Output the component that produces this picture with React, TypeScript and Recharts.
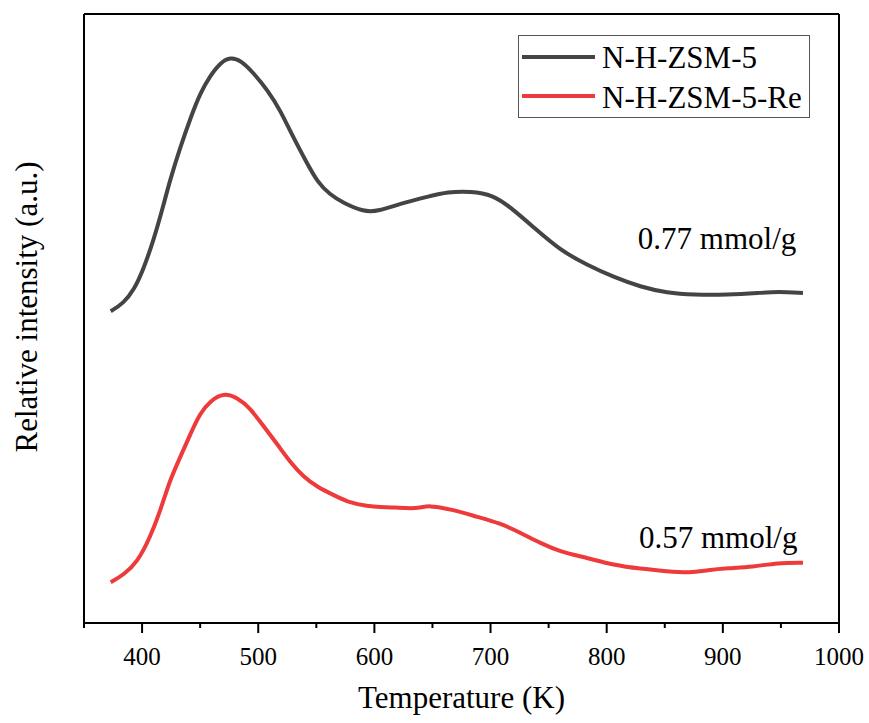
import React from "react";
import {
  LineChart,
  Line,
  XAxis,
  YAxis,
  ReferenceLine,
  ReferenceDot,
  Legend,
} from "recharts";

const serif = '"Liberation Serif", "Times New Roman", serif';

// temperature (K) readings for each sample
const blackTemps = [
  373, 384, 393, 401, 410, 418, 424, 433, 442, 450, 459, 468, 476, 485, 496, 508, 519, 530, 542, 551,
  562, 573, 591, 603, 625, 646, 663, 683, 702, 717, 737, 760, 783, 806, 829, 852, 875, 904, 932, 947, 969,
];
const blackIntensity = [
  51.2, 52.5, 54.7, 58.0, 62.9, 68.3, 72.7, 78.2, 83.1, 87.0, 90.0, 92.1, 92.9, 92.4, 90.3, 87.5, 84.2,
  79.8, 75.5, 72.4, 70.3, 69.0, 67.5, 67.6, 69.0, 70.0, 70.8, 70.9, 70.3, 68.3, 65.0, 61.2, 58.8, 56.8,
  55.2, 54.2, 53.9, 53.9, 54.2, 54.4, 54.2,
];

const redTemps = [
  373, 384, 396, 407, 416, 424, 433, 442, 450, 459, 470, 482, 493, 505, 517, 528, 539, 551, 565, 579,
  594, 605, 616, 637, 646, 668, 689, 708, 726, 743, 760, 783, 806, 829, 852, 872, 887, 904, 926, 947, 969,
];
const redIntensity = [
  6.7, 7.9, 10.0, 14.1, 18.6, 23.5, 27.3, 31.2, 34.5, 36.5, 37.8, 37.0, 35.3, 32.2, 29.2, 26.3, 24.0,
  22.3, 21.0, 19.7, 19.2, 19.0, 19.0, 18.7, 19.4, 18.6, 17.4, 16.4, 14.8, 13.1, 11.7, 10.7, 9.5, 8.9,
  8.5, 8.2, 8.7, 9.0, 9.2, 9.9, 9.9,
];

const xTicks = [350, 400, 450, 500, 550, 600, 650, 700, 750, 800, 850, 900, 950, 1000];

const blackData = blackTemps.map((t, i) => ({ t, v: blackIntensity[i] }));
const redData = redTemps.map((t, i) => ({ t, v: redIntensity[i] }));

const BLACK = "#444444";
const RED = "#ee3a3a";

function TempTick(props: any) {
  const { x, y, payload } = props;
  const major = payload.value % 100 === 0;
  return (
    <g>
      <line x1={x} x2={x} y1={y} y2={y + (major ? 10 : 5)} stroke="#000" strokeWidth={2} />
      {major && (
        <text x={x} y={y + 42} textAnchor="middle" fontFamily={serif} fontSize={25} fill="#000">
          {payload.value}
        </text>
      )}
    </g>
  );
}

function BoxLegend(props: any) {
  const items = props.payload || [];
  return (
    <div style={{ border: "1px solid #555", background: "#fff", width: 290, height: 81 }}>
      <svg width={290} height={81}>
        {items.map((it: any, i: number) => (
          <g key={it.value}>
            <line x1={3} x2={76} y1={21 + i * 39} y2={21 + i * 39} stroke={it.color} strokeWidth={4} />
            <text x={83} y={32 + i * 40} fontFamily={serif} fontSize={31} fill="#000">
              {it.value}
            </text>
          </g>
        ))}
      </svg>
    </div>
  );
}

function valueLabel(text: string) {
  return {
    value: text,
    position: "center" as const,
    fontFamily: serif,
    fontSize: 31,
    fill: "#000",
  };
}

export default function App() {
  return (
    <div style={{ position: "absolute", left: 0, top: 0, width: 869, height: 723, background: "#fff" }}>
      <LineChart width={869} height={723} margin={{ top: 14, right: 30, bottom: 0, left: 0 }}>
        <XAxis
          dataKey="t"
          type="number"
          domain={[350, 1000]}
          ticks={xTicks}
          interval={0}
          allowDataOverflow
          height={100}
          tickLine={false}
          tickSize={0}
          tickMargin={0}
          tick={<TempTick />}
          axisLine={{ stroke: "#000", strokeWidth: 2 }}
          label={{
            value: "Temperature (K)",
            position: "insideBottom",
            offset: 15,
            fontFamily: serif,
            fontSize: 31,
            fill: "#000",
          }}
        />
        <YAxis
          type="number"
          domain={[0, 100]}
          width={84}
          tick={false}
          tickLine={false}
          axisLine={{ stroke: "#000", strokeWidth: 2 }}
          label={{
            value: "Relative intensity (a.u.)",
            content: () => (
              <text
                x={37}
                y={307}
                transform="rotate(-90, 37, 307)"
                textAnchor="middle"
                fontFamily={serif}
                fontSize={31}
                fill="#000"
              >
                Relative intensity (a.u.)
              </text>
            ),
          }}
        />
        <ReferenceLine y={100} stroke="#000" strokeWidth={2} />
        <ReferenceLine x={1000} stroke="#000" strokeWidth={2} />
        <Legend
          layout="horizontal"
          align="center"
          verticalAlign="middle"
          content={<BoxLegend />}
          wrapperStyle={{ position: "absolute", left: 518, top: 35, width: 292, height: 83 }}
        />
        <Line
          data={blackData}
          dataKey="v"
          name="N-H-ZSM-5"
          type="basis"
          stroke={BLACK}
          strokeWidth={4}
          dot={false}
          isAnimationActive={false}
        />
        <Line
          data={redData}
          dataKey="v"
          name="N-H-ZSM-5-Re"
          type="basis"
          stroke={RED}
          strokeWidth={4}
          dot={false}
          isAnimationActive={false}
        />
        <ReferenceDot x={895} y={63.3} r={0} stroke="none" label={valueLabel("0.77 mmol/g")} />
        <ReferenceDot x={896} y={14.1} r={0} stroke="none" label={valueLabel("0.57 mmol/g")} />
      </LineChart>
    </div>
  );
}
